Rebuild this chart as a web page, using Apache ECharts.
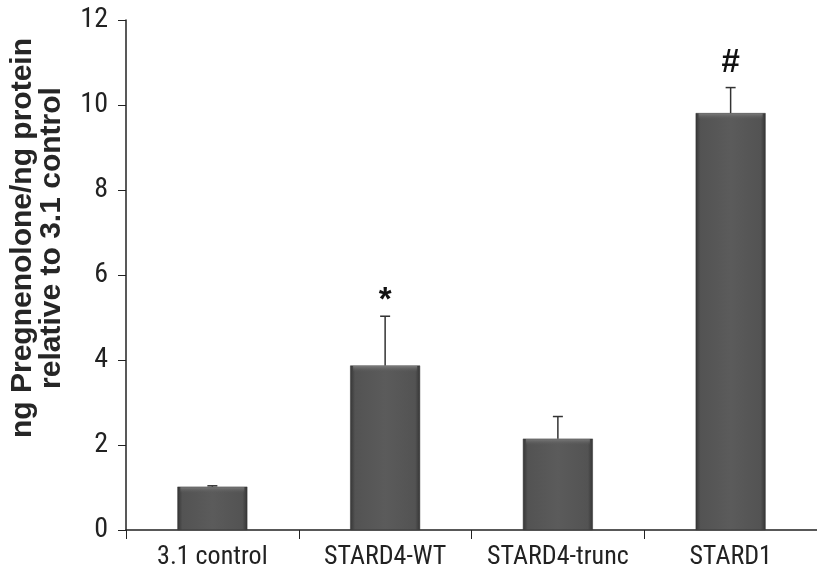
<!DOCTYPE html>
<html>
<head>
<meta charset="utf-8">
<script src="https://cdn.jsdelivr.net/npm/echarts@6/dist/echarts.min.js"></script>
<style>html,body{margin:0;padding:0;background:#fff}#c{width:817px;height:582px}</style>
</head>
<body>
<div id="c"></div>
<script>
var categories = ['3.1 control', 'STARD4-WT', 'STARD4-trunc', 'STARD1'];
var values = [1.02, 3.87, 2.15, 9.81];
var errors = [0.02, 1.16, 0.52, 0.6];
var marks = ['', '*', '', '#'];
var yTicks = [0, 2, 4, 6, 8, 10, 12];

var narrow = '"Roboto Condensed", "Liberation Sans Narrow", "Arial Narrow", sans-serif';
var chart = echarts.init(document.getElementById('c'));
var barGrad = new echarts.graphic.LinearGradient(0, 0, 1, 0, [
  {offset: 0, color: '#353535'},
  {offset: 0.07, color: '#535353'},
  {offset: 0.5, color: '#5b5b5b'},
  {offset: 0.93, color: '#535353'},
  {offset: 1, color: '#353535'}
]);
var topGrad = new echarts.graphic.LinearGradient(0, 0, 0, 1, [
  {offset: 0, color: '#7a7a7a'},
  {offset: 1, color: 'rgba(91,91,91,0)'}
]);
var markOffset = {'*': 15, '#': 25};
var barRatio = 0.405;
chart.setOption({
  animation: false,
  grid: {left: 126, right: -8, top: 20, bottom: 52, containLabel: false},
  xAxis: {
    type: 'category',
    data: categories,
    axisLine: {lineStyle: {color: '#222', width: 1.5}},
    axisTick: {show: true, length: 9, inside: false, lineStyle: {color: '#222'}},
    axisLabel: {color: '#222', fontFamily: narrow, fontSize: 26, margin: 14, interval: 0}
  },
  yAxis: {
    type: 'value',
    min: 0, max: 12, interval: 2,
    axisLine: {show: true, lineStyle: {color: '#222', width: 1.5}},
    axisTick: {show: true, length: 8, lineStyle: {color: '#222'}},
    splitLine: {show: false},
    axisLabel: {color: '#222', fontFamily: narrow, fontSize: 28, margin: 18,
      formatter: function (v) { return yTicks.indexOf(v) >= 0 ? String(v) : ''; }}
  },
  graphic: [{
    type: 'text',
    x: 37, y: 238, rotation: Math.PI / 2,
    style: {
      text: 'ng Pregnenolone/ng protein\nrelative to 3.1 control',
      font: 'bold 30px "Liberation Sans", Arial, sans-serif',
      fill: '#262626', align: 'center', verticalAlign: 'middle', lineHeight: 29
    }
  }],
  series: [{
    type: 'bar',
    data: values,
    barWidth: (barRatio * 100) + '%',
    itemStyle: {color: barGrad, borderColor: '#333', borderWidth: 0.5}
  }, {
    type: 'custom',
    data: categories.map(function (c, i) { return [i, values[i], values[i] + errors[i]]; }),
    renderItem: function (params, api) {
      var x = api.coord([api.value(0), 0])[0];
      var y0 = api.coord([0, api.value(1)])[1];
      var y1 = api.coord([0, api.value(2)])[1];
      var bw = api.size([1, 0])[0] * barRatio;
      var children = [
        {type: 'rect', shape: {x: x - bw / 2 + 3, y: y0 + 0.5, width: bw - 6, height: 6}, style: {fill: topGrad}},
        {type: 'line', shape: {x1: x, y1: y0, x2: x, y2: y1}, style: {stroke: '#333', lineWidth: 1.5}},
        {type: 'line', shape: {x1: x - 5, y1: y1, x2: x + 5, y2: y1}, style: {stroke: '#333', lineWidth: 1.5}}
      ];
      var m = marks[params.dataIndex];
      if (m) {
        children.push({type: 'text', x: x, y: y1 - markOffset[m], style: {text: m, font: 'bold 33px "Liberation Sans", Arial, sans-serif', fill: '#111', align: 'center', verticalAlign: 'middle'}});
      }
      return {type: 'group', children: children};
    },
    z: 5
  }]
});
</script>
</body>
</html>
